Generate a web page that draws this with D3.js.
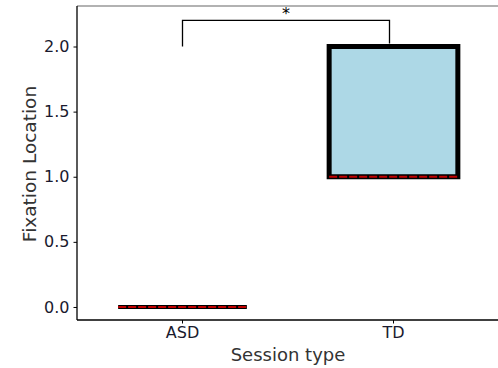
<!DOCTYPE html>
<html>
<head>
<meta charset="utf-8">
<script src="https://cdn.jsdelivr.net/npm/d3@7"></script>
<style>
  body { margin: 0; background: #fff; }
  text { font-family: "DejaVu Sans", sans-serif; }
</style>
</head>
<body>
<script>
// data
var groups = ["ASD", "TD"];
var q1 = [0, 1];
var medians = [0, 1];
var q3 = [0, 2];
var yTicks = [0, 0.5, 1.0, 1.5, 2.0];
var sigPair = ["ASD", "TD"];
var sigLabel = "*";

var width = 498, height = 368;
var margin = { top: 6, right: -1, bottom: 48, left: 77 };

var svg = d3.select("body").append("svg")
  .attr("width", width)
  .attr("height", height);

var x = d3.scaleBand()
  .domain(groups)
  .range([margin.left, width - margin.right])
  .paddingInner(0.39)
  .paddingOuter(0.195);

var y = d3.scaleLinear()
  .domain([-0.1, 2.311])
  .range([height - margin.bottom, margin.top]);

function center(g) { return x(g) + x.bandwidth() / 2; }

var yBottom = height - margin.bottom;

// spines
svg.append("line")
  .attr("x1", margin.left).attr("x2", width)
  .attr("y1", margin.top).attr("y2", margin.top)
  .attr("stroke", "#666").attr("stroke-width", 1.2);
svg.append("line")
  .attr("x1", margin.left).attr("x2", margin.left)
  .attr("y1", margin.top).attr("y2", yBottom)
  .attr("stroke", "#000").attr("stroke-width", 1.3);
svg.append("line")
  .attr("x1", margin.left).attr("x2", width)
  .attr("y1", yBottom).attr("y2", yBottom)
  .attr("stroke", "#000").attr("stroke-width", 1.3);

// boxes (path so a flat box still gets its outline)
var boxes = svg.append("g");
groups.forEach(function(g, i) {
  var top = y(q3[i]), bot = y(q1[i]);
  var x0 = x(g), x1 = x(g) + x.bandwidth();
  boxes.append("path")
    .attr("d", "M" + x0 + "," + top + "H" + x1 + "V" + bot + "H" + x0 + "Z")
    .attr("fill", "#add8e6")
    .attr("stroke", "#000").attr("stroke-width", bot - top > 0 ? 5 : 4)
    .attr("stroke-linejoin", "miter");
  boxes.append("line")
    .attr("x1", x0).attr("x2", x1)
    .attr("y1", y(medians[i])).attr("y2", y(medians[i]))
    .attr("stroke", "#c00000").attr("stroke-width", 2)
    .attr("stroke-dasharray", "8,2");
});

// significance bracket
var bx1 = center(sigPair[0]), bx2 = center(sigPair[1]) - 4;
var by = y(2.2);
svg.append("path")
  .attr("d", "M" + bx1 + "," + y(2.0) + "V" + by + "H" + bx2 + "V" + (y(q3[1]) - 3))
  .attr("fill", "none").attr("stroke", "#000").attr("stroke-width", 1.3);
svg.append("text")
  .attr("x", (bx1 + bx2) / 2).attr("y", by - 1)
  .attr("text-anchor", "middle")
  .attr("font-size", 16)
  .text(sigLabel);

// axes (ticks and labels only; spines drawn above)
var yAxis = svg.append("g")
  .attr("transform", "translate(" + margin.left + ",0)")
  .call(d3.axisLeft(y).tickValues(yTicks).tickFormat(d3.format(".1f")).tickSize(3.5).tickPadding(4));
var xAxis = svg.append("g")
  .attr("transform", "translate(0," + yBottom + ")")
  .call(d3.axisBottom(x).tickSize(3.5).tickPadding(3));

[yAxis, xAxis].forEach(function(a) {
  a.select(".domain").remove();
  a.selectAll(".tick line").attr("stroke", "#000").attr("stroke-width", 1);
  a.selectAll(".tick text")
    .attr("font-family", "DejaVu Sans, sans-serif")
    .attr("font-size", 16).attr("fill", "#1a1a2e");
});

// axis labels
svg.append("text")
  .attr("x", 288)
  .attr("y", 361)
  .attr("text-anchor", "middle")
  .attr("font-size", 18).attr("fill", "#333")
  .text("Session type");
svg.append("text")
  .attr("transform", "translate(36," + 164 + ") rotate(-90)")
  .attr("text-anchor", "middle")
  .attr("font-size", 18.5).attr("fill", "#333")
  .text("Fixation Location");
</script>
</body>
</html>
